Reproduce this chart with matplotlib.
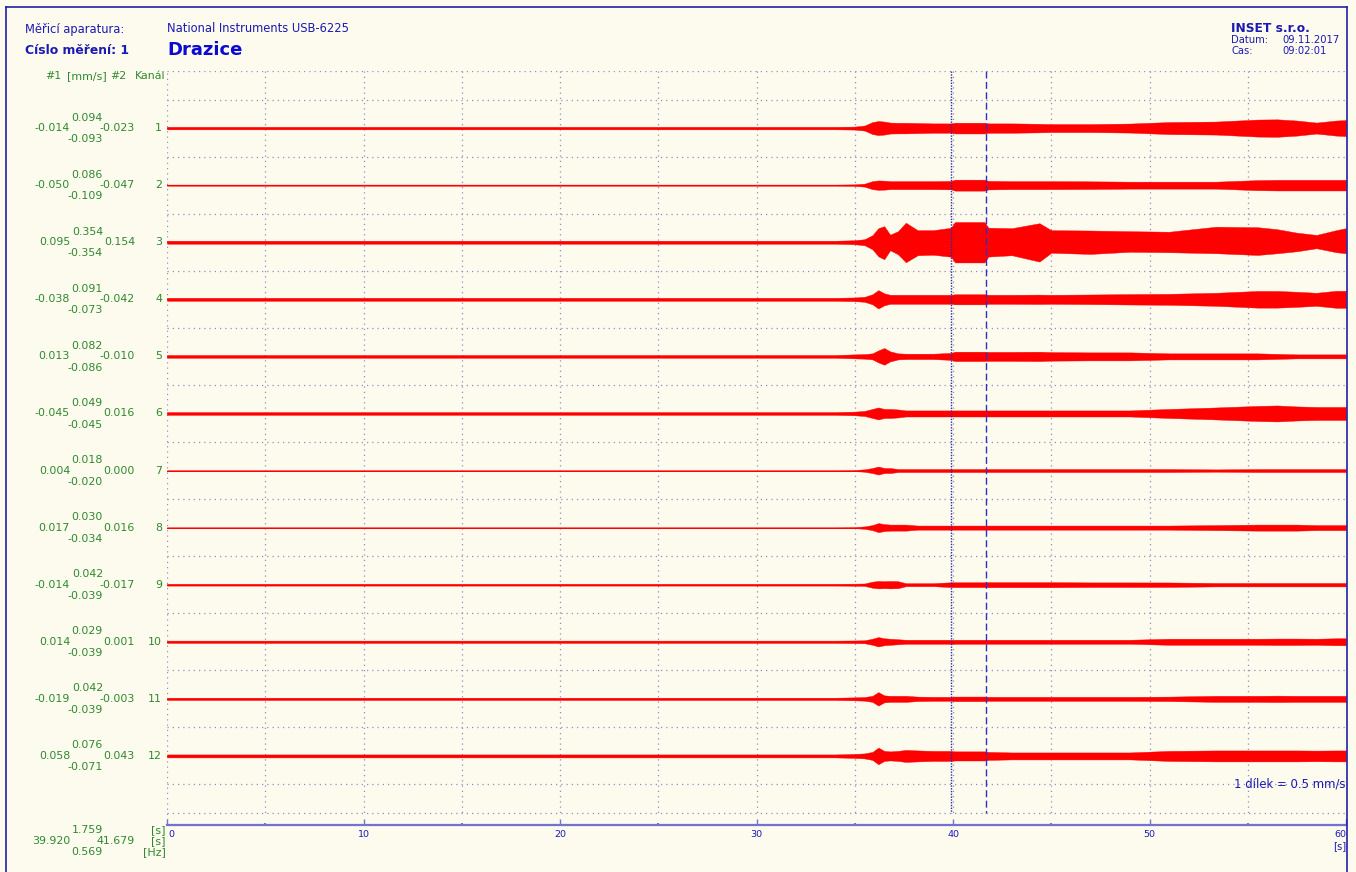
import matplotlib
matplotlib.use("Agg")
import matplotlib.pyplot as plt
from matplotlib.lines import Line2D
from matplotlib.transforms import blended_transform_factory
import numpy as np

# ---------------- data ----------------
T = [0, 34.0, 35.0, 35.5, 35.9, 36.2, 36.5, 36.8, 37.2, 37.6, 38.2, 39.0, 39.9, 40.1,
     41.6, 41.8, 43.0, 44.4, 45.0, 47.0, 49.0, 51.0, 53.4, 55.5, 56.5, 57.5, 58.5, 59.5, 60.0]

# envelope half-amplitudes in mm/s (upper / lower)
CH1 = [0.022,0.022,0.026,0.044,0.105,0.123,0.114,0.096,0.093,0.093,0.088,0.082,0.082,0.094,0.094,0.082,0.082,0.075,0.070,0.070,0.079,0.105,0.114,0.149,0.153,0.132,0.096,0.132,0.140]
CH2 = [0.010,0.010,0.014,0.026,0.070,0.082,0.079,0.070,0.070,0.070,0.070,0.070,0.074,0.096,0.096,0.075,0.070,0.070,0.070,0.067,0.061,0.061,0.061,0.088,0.093,0.093,0.093,0.093,0.093]
CH3_UP = [0.026,0.026,0.035,0.053,0.123,0.246,0.281,0.132,0.193,0.342,0.211,0.211,0.254,0.354,0.354,0.254,0.246,0.333,0.211,0.205,0.193,0.184,0.272,0.263,0.228,0.167,0.128,0.211,0.246]
CH3_LO = [0.026,0.026,0.035,0.053,0.123,0.246,0.298,0.140,0.211,0.351,0.228,0.219,0.254,0.354,0.354,0.251,0.228,0.339,0.184,0.205,0.167,0.175,0.193,0.223,0.193,0.158,0.105,0.175,0.193]
CH4 = [0.026,0.026,0.032,0.044,0.088,0.161,0.105,0.079,0.079,0.079,0.079,0.079,0.079,0.088,0.088,0.079,0.079,0.082,0.079,0.084,0.091,0.096,0.114,0.146,0.146,0.132,0.114,0.149,0.149]
CH5 = [0.024,0.024,0.035,0.040,0.053,0.105,0.146,0.088,0.053,0.047,0.047,0.047,0.061,0.082,0.082,0.079,0.079,0.082,0.075,0.070,0.070,0.053,0.053,0.053,0.044,0.035,0.035,0.035,0.035]
CH6 = [0.024,0.024,0.032,0.044,0.079,0.105,0.079,0.079,0.070,0.053,0.053,0.053,0.053,0.053,0.053,0.053,0.053,0.053,0.053,0.053,0.053,0.079,0.105,0.132,0.140,0.123,0.114,0.114,0.114]
CH7 = [0.006,0.006,0.010,0.021,0.044,0.070,0.044,0.044,0.026,0.026,0.026,0.026,0.026,0.026,0.026,0.026,0.026,0.026,0.026,0.026,0.026,0.026,0.020,0.026,0.026,0.026,0.026,0.026,0.026]
CH8 = [0.006,0.006,0.010,0.021,0.044,0.079,0.061,0.053,0.053,0.053,0.036,0.036,0.036,0.036,0.036,0.036,0.036,0.036,0.036,0.036,0.036,0.036,0.044,0.053,0.053,0.053,0.044,0.044,0.044]
CH9 = [0.016,0.016,0.018,0.021,0.053,0.065,0.061,0.065,0.061,0.026,0.026,0.026,0.042,0.042,0.042,0.044,0.044,0.044,0.044,0.040,0.040,0.039,0.030,0.030,0.030,0.030,0.030,0.030,0.030]
CH10 = [0.020,0.020,0.023,0.026,0.053,0.082,0.061,0.053,0.044,0.035,0.035,0.035,0.035,0.035,0.035,0.035,0.035,0.035,0.035,0.035,0.035,0.053,0.053,0.053,0.056,0.056,0.053,0.061,0.061]
CH11 = [0.020,0.020,0.026,0.032,0.053,0.118,0.061,0.053,0.053,0.053,0.039,0.035,0.035,0.040,0.040,0.035,0.035,0.035,0.035,0.035,0.035,0.039,0.053,0.053,0.056,0.053,0.053,0.053,0.053]
CH12 = [0.026,0.026,0.035,0.044,0.070,0.146,0.088,0.079,0.088,0.105,0.096,0.088,0.088,0.080,0.080,0.070,0.061,0.061,0.061,0.061,0.061,0.088,0.096,0.096,0.096,0.096,0.093,0.096,0.096]

CHANNELS = [1, 2, 3, 4, 5, 6, 7, 8, 9, 10, 11, 12]
ENV_UP = [CH1, CH2, CH3_UP, CH4, CH5, CH6, CH7, CH8, CH9, CH10, CH11, CH12]
ENV_LO = [CH1, CH2, CH3_LO, CH4, CH5, CH6, CH7, CH8, CH9, CH10, CH11, CH12]

MAXV = [0.094, 0.086, 0.354, 0.091, 0.082, 0.049, 0.018, 0.030, 0.042, 0.029, 0.042, 0.076]
MINV = [-0.093, -0.109, -0.354, -0.073, -0.086, -0.045, -0.020, -0.034, -0.039, -0.039, -0.039, -0.071]
CUR1V = [-0.014, -0.050, 0.095, -0.038, 0.013, -0.045, 0.004, 0.017, -0.014, 0.014, -0.019, 0.058]
CUR2V = [-0.023, -0.047, 0.154, -0.042, -0.010, 0.016, 0.000, 0.016, -0.017, 0.001, -0.003, 0.043]

CURSOR1 = 39.920
CURSOR2 = 41.679
XTICKS = [0, 10, 20, 30, 40, 50, 60]
DIV_MMS = 0.5   # 1 dilek = 0.5 mm/s

# ---------------- style ----------------
W, H = 1356, 872
BG = "#FDFAEE"
RED = "#FF0000"
GREEN = "#2E8A2E"
BLUE = "#1A1AB4"
GRID = "#9090BC"
FRAME = "#2020A8"
AXBLUE = "#7272D2"
FS = 7.9       # green labels
FSH = 8.3      # header
FST = 6.8      # x tick labels
FAM = ["DejaVu Sans"]

plt.rcParams["font.family"] = FAM

fig = plt.figure(figsize=(W / 100, H / 100), dpi=100, facecolor=BG)

top_px, bot_px = 71, 825
div_px = (813 - 71) / 26.0
ymax = (bot_px - top_px) / div_px
ax = fig.add_axes([167 / W, 1 - bot_px / H, (1346 - 167) / W, (bot_px - top_px) / H])
ax.set_facecolor(BG)
ax.set_xlim(0, 60)
ax.set_ylim(ymax, 0)
for s in ["top", "right", "left"]:
    ax.spines[s].set_visible(False)
ax.spines["bottom"].set_color(AXBLUE)
ax.spines["bottom"].set_linewidth(1.6)
ax.set_yticks([])
ax.set_xticks(XTICKS)
ax.set_xticklabels([])
ax.set_xticks([5, 15, 25, 35, 45, 55], minor=True)
ax.tick_params(axis="x", which="major", direction="in", length=4, width=1, color=AXBLUE)
ax.tick_params(axis="x", which="minor", direction="in", length=1.5, width=1.5, color=AXBLUE)

# grid
dotted = (0, (1, 3.2))
ax.axvline(0, color=GRID, lw=0.9, ls=dotted, zorder=1)
for d in range(0, 27):
    if d % 2 == 1 or d == 0 or d == 26:
        ax.axhline(d, color=GRID, lw=0.9, ls=dotted, zorder=1)
ax.vlines([5, 10, 15, 20, 25, 30, 35, 40, 45, 50, 55], 0, 26, color=GRID, lw=0.9, ls=dotted, zorder=1)

# traces
Ta = np.array(T)
for i, ch in enumerate(CHANNELS):
    c = 2 * ch
    up = np.array(ENV_UP[i]) / DIV_MMS
    lo = np.array(ENV_LO[i]) / DIV_MMS
    ax.fill_between(Ta, c - up, c + lo, color=RED, lw=0.3, edgecolor=RED, zorder=3)
    ax.plot(Ta, np.full_like(Ta, c), color=RED, lw=0.7, zorder=3)

# cursors
ax.vlines(CURSOR1, 0, 26, color="#2828A8", lw=1.0, ls=(0, (1, 1)), zorder=4)
ax.vlines(CURSOR2, 0, 26, color="#2E2EC8", lw=1.0, ls=(0, (5, 2.5)), zorder=4)

# x labels
tx = blended_transform_factory(ax.transData, fig.transFigure)
for v in XTICKS:
    if v == 0:
        ha, xo = "left", 0.05
    elif v == 60:
        ha, xo = "right", 60
    else:
        ha, xo = "center", v
    ax.text(xo, 1 - 834 / H, str(v), transform=tx, ha=ha, va="center",
            fontsize=FST, color=BLUE)
ax.text(60, 1 - 846 / H, "[s]", transform=tx, ha="right", va="center", fontsize=FST + 0.4, color=BLUE)
ax.text(59.97, 25, "1 dílek = 0.5 mm/s", ha="right", va="center", fontsize=8.4, color=BLUE)

# left labels
lt = blended_transform_factory(fig.transFigure, ax.transData)
def fmt(v):
    return f"{v:.3f}"
for i, ch in enumerate(CHANNELS):
    c = 2 * ch
    ax.text(103 / W, c - 0.37, fmt(MAXV[i]), transform=lt, ha="right", va="center", fontsize=FS, color=GREEN)
    ax.text(103 / W, c + 0.39, fmt(MINV[i]), transform=lt, ha="right", va="center", fontsize=FS, color=GREEN)
    ax.text(70 / W, c, fmt(CUR1V[i]), transform=lt, ha="right", va="center", fontsize=FS, color=GREEN)
    ax.text(135 / W, c, fmt(CUR2V[i]), transform=lt, ha="right", va="center", fontsize=FS, color=GREEN)
    ax.text(162 / W, c, str(ch), transform=lt, ha="right", va="center", fontsize=FS, color=GREEN)

def ftext(x, y, s, **kw):
    fig.text(x / W, 1 - y / H, s, **kw)

ftext(45, 76, "#1", ha="left", va="center", fontsize=FS, color=GREEN)
ftext(67, 76, "[mm/s]", ha="left", va="center", fontsize=FS, color=GREEN)
ftext(110, 76, "#2", ha="left", va="center", fontsize=FS, color=GREEN)
ftext(166, 76, "Kanál", ha="right", va="center", fontsize=FS, color=GREEN)

# bottom-left cursor info
ftext(103, 830, f"{CURSOR2 - CURSOR1:.3f}", ha="right", va="center", fontsize=FS, color=GREEN)
ftext(70, 841, f"{CURSOR1:.3f}", ha="right", va="center", fontsize=FS, color=GREEN)
ftext(135, 841, f"{CURSOR2:.3f}", ha="right", va="center", fontsize=FS, color=GREEN)
ftext(103, 852, f"{1 / (CURSOR2 - CURSOR1):.3f}", ha="right", va="center", fontsize=FS, color=GREEN)
ftext(166, 830, "[s]", ha="right", va="center", fontsize=FS, color=GREEN)
ftext(166, 841, "[s]", ha="right", va="center", fontsize=FS, color=GREEN)
ftext(166, 852, "[Hz]", ha="right", va="center", fontsize=FS, color=GREEN)

# header
ftext(25, 29, "Měřicí aparatura:", ha="left", va="center", fontsize=FSH, color=BLUE)
ftext(167, 29, "National Instruments USB-6225", ha="left", va="center", fontsize=FSH, color=BLUE)
ftext(25, 51, "Císlo měření: 1", ha="left", va="center", fontsize=8.9, color=BLUE, fontweight="bold")
ftext(167, 50, "Drazice", ha="left", va="center", fontsize=13, color="#0A0AD2", fontweight="bold")
ftext(1231, 29, "INSET s.r.o.", ha="left", va="center", fontsize=8.8, color=BLUE, fontweight="bold")
ftext(1231, 40, "Datum:", ha="left", va="center", fontsize=7.2, color=BLUE)
ftext(1340, 40, "09.11.2017", ha="right", va="center", fontsize=7.2, color=BLUE)
ftext(1231, 51, "Cas:", ha="left", va="center", fontsize=7.2, color=BLUE)
ftext(1327, 51, "09:02:01", ha="right", va="center", fontsize=7.2, color=BLUE)

# figure frame
for xs, ys in [([6, 6], [7, 872]), ([6, 1347], [7, 7]), ([1347, 1347], [7, 872])]:
    fig.add_artist(Line2D([x / W for x in xs], [1 - y / H for y in ys],
                          transform=fig.transFigure, color=FRAME, lw=1.2))

fig.savefig("out.png", dpi=100, facecolor=BG)
